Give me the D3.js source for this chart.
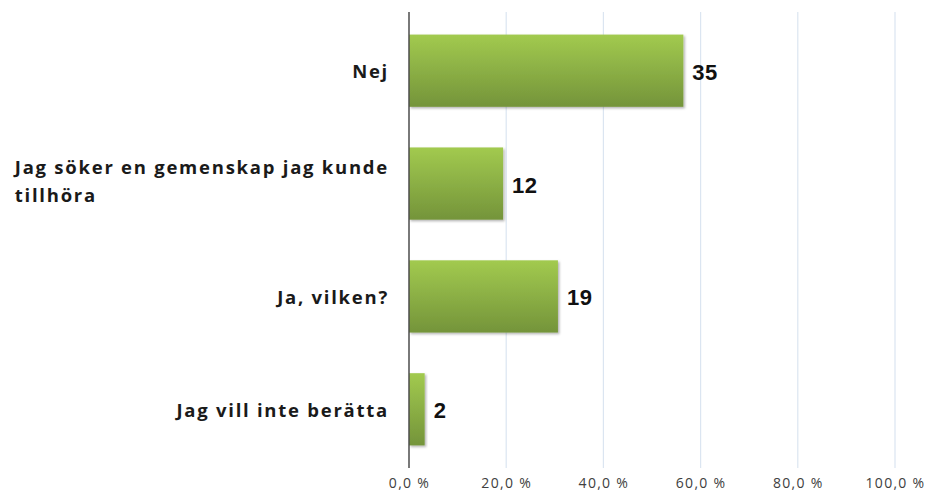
<!DOCTYPE html>
<html lang="sv">
<head>
<meta charset="UTF-8">
<script src="https://d3js.org/d3.v7.min.js"></script>
<style>
  body { margin: 0; background: #fff; }
  .cat { font-family: "Open Sans", sans-serif; font-weight: 700; font-size: 18.5px; letter-spacing: 1.75px; fill: #1a1a1a; }
  .val { font-family: "Liberation Sans", Arial, sans-serif; font-weight: 700; font-size: 22px; letter-spacing: 0.5px; fill: #111; }
  .tick text { font-family: "Open Sans", sans-serif; font-size: 14px; letter-spacing: 1.3px; fill: #404040; }
</style>
</head>
<body>
<script>
// data
const categories = ["Nej", "Jag söker en gemenskap jag kunde tillhöra", "Ja, vilken?", "Jag vill inte berätta"];
const labelLines = [["Nej"], ["Jag söker en gemenskap jag kunde", "tillhöra"], ["Ja, vilken?"], ["Jag vill inte berätta"]];
const counts = [35, 12, 19, 2];
const respondents = 62;
const tickValues = [0, 20, 40, 60, 80, 100];
const tickLabels = ["0,0 %", "20,0 %", "40,0 %", "60,0 %", "80,0 %", "100,0 %"];

const w = 925, h = 493;
const padLeft = 409, padRight = 895, padTop = 12, padBottom = 468;

const svg = d3.select("body").append("svg")
  .attr("width", w)
  .attr("height", h);

const defs = svg.append("defs");
const grad = defs.append("linearGradient")
  .attr("id", "barGrad")
  .attr("x1", 0).attr("y1", 0).attr("x2", 0).attr("y2", 1);
grad.append("stop").attr("offset", "0%").attr("stop-color", "#a2ca4f");
grad.append("stop").attr("offset", "100%").attr("stop-color", "#74943a");

const shadow = defs.append("filter").attr("id", "shadow")
  .attr("x", "-10%").attr("y", "-10%").attr("width", "130%").attr("height", "130%");
shadow.append("feDropShadow")
  .attr("dx", 1.5).attr("dy", 1.5).attr("stdDeviation", 1.2)
  .attr("flood-color", "#000").attr("flood-opacity", 0.3);

const x = d3.scaleLinear().domain([0, 100]).range([padLeft, padRight]);
const y = d3.scaleBand().domain(categories).range([padTop, padBottom]).paddingInner(0.36).paddingOuter(0.2);

// gridlines
svg.append("g")
  .selectAll("line")
  .data(tickValues.slice(1))
  .join("line")
  .attr("x1", d => x(d)).attr("x2", d => x(d))
  .attr("y1", padTop).attr("y2", padBottom)
  .attr("stroke", "#dbe5f1")
  .attr("stroke-width", 1.2);

// x axis labels
const xAxis = d3.axisBottom(x)
  .tickValues(tickValues)
  .tickFormat((d, i) => tickLabels[i])
  .tickSize(0)
  .tickPadding(0);
const gx = svg.append("g")
  .attr("transform", "translate(0," + (padBottom + 10) + ")")
  .call(xAxis);
gx.select(".domain").remove();

// bars
svg.append("g")
  .selectAll("rect")
  .data(counts)
  .join("rect")
  .attr("x", x(0))
  .attr("y", (d, i) => y(categories[i]))
  .attr("width", d => x(d / respondents * 100) - x(0))
  .attr("height", y.bandwidth())
  .attr("fill", "url(#barGrad)")
  .attr("filter", "url(#shadow)");

// vertical axis line
svg.append("line")
  .attr("x1", x(0)).attr("x2", x(0))
  .attr("y1", padTop).attr("y2", padBottom)
  .attr("stroke", "#4d4d4d")
  .attr("stroke-width", 1.5);

// value labels
svg.append("g")
  .selectAll("text")
  .data(counts)
  .join("text")
  .attr("class", "val")
  .attr("x", d => x(d / respondents * 100) + 9)
  .attr("y", (d, i) => y(categories[i]) + y.bandwidth() / 2 + 9)
  .text(d => d);

// category labels (multi-line blocks are left aligned, right edge at the axis gap)
const labelRight = padLeft - 20;
const cats = svg.append("g")
  .selectAll("text")
  .data(labelLines)
  .join("text")
  .attr("class", "cat")
  .attr("y", (d, i) => y(categories[i]) + y.bandwidth() / 2);
cats.selectAll("tspan")
  .data(d => d.map((t, j) => ({ t, j, n: d.length })))
  .join("tspan")
  .attr("dy", d => d.j === 0 ? (7.5 - (d.n - 1) * 17) + "px" : "28px")
  .text(d => d.t);
cats.each(function() {
  const spans = d3.select(this).selectAll("tspan");
  let maxW = 0;
  spans.each(function() { maxW = Math.max(maxW, this.getComputedTextLength()); });
  spans.attr("x", labelRight - maxW);
});
</script>
</body>
</html>
